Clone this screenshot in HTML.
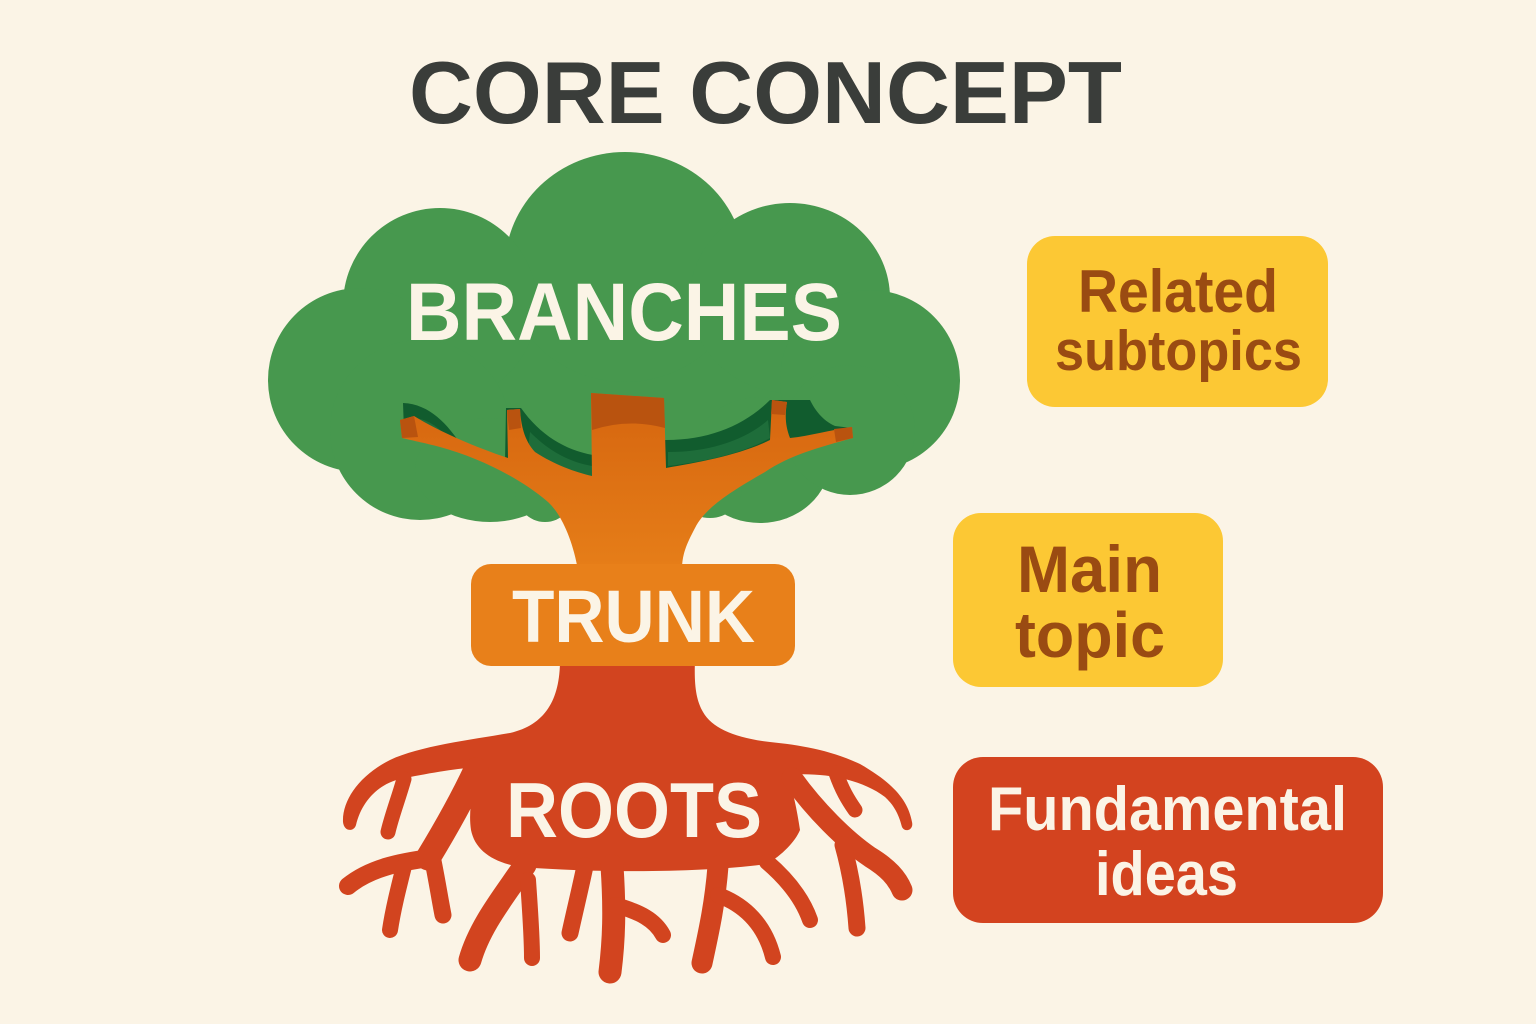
<!DOCTYPE html>
<html>
<head>
<meta charset="utf-8">
<style>
  html,body{margin:0;padding:0;background:#FBF4E6;}
  body{width:1536px;height:1024px;overflow:hidden;}
  svg{display:block;}
  text{font-family:"Liberation Sans",sans-serif;font-weight:bold;}
</style>
</head>
<body>
<svg width="1536" height="1024" viewBox="0 0 1536 1024" xmlns="http://www.w3.org/2000/svg">
  <defs>
    <linearGradient id="trunkG" x1="0" y1="393" x2="0" y2="600" gradientUnits="userSpaceOnUse">
      <stop offset="0" stop-color="#D5650F"/>
      <stop offset="1" stop-color="#E9821A"/>
    </linearGradient>
  </defs>
  <rect width="1536" height="1024" fill="#FBF4E6"/>

  <!-- Title -->
  <text x="765.5" y="123" font-size="88" fill="#3A3D3A" text-anchor="middle" textLength="713" lengthAdjust="spacingAndGlyphs">CORE CONCEPT</text>

  <!-- Canopy -->
  <g fill="#47984E">
    <ellipse cx="615" cy="370" rx="260" ry="130"/>
    <ellipse cx="625" cy="267" rx="120" ry="115"/>
    <circle cx="440" cy="305" r="97"/>
    <ellipse cx="790" cy="298" rx="100" ry="95"/>
    <circle cx="360" cy="380" r="92"/>
    <circle cx="870" cy="380" r="90"/>
    <circle cx="420" cy="430" r="90"/>
    <ellipse cx="490" cy="470" rx="75" ry="52"/>
    <ellipse cx="545" cy="490" rx="30" ry="32"/>
    <ellipse cx="760" cy="460" rx="70" ry="63"/>
    <ellipse cx="710" cy="488" rx="32" ry="30"/>
    <circle cx="850" cy="430" r="65"/>
  </g>

  <!-- dark shadow under canopy -->
  <path fill="#115C2E" d="M 403,403 C 430,404 448,425 462,446 L 505,462 L 506,408 L 521,408 C 540,435 565,450 593,455 L 593,440 L 666,440 C 710,440 745,425 770,400 L 810,400 C 815,410 822,420 835,426 L 852,428 L 850,437 L 800,447 L 787,438 L 770,447 L 730,467 L 666,474 L 592,484 L 545,467 L 523,448 L 510,466 L 450,444 L 404,432 Z"/>
  <path fill="#1E6D3A" d="M 415,418 C 432,420 444,432 452,444 L 420,436 Z M 530,432 C 550,452 570,462 592,466 L 592,478 C 565,472 545,462 528,450 Z M 668,452 C 710,452 745,440 768,420 L 770,438 C 740,455 700,462 668,466 Z"/>

  <!-- Trunk and branches -->
  <path fill="url(#trunkG)" d="M 400,420 L 414,416 C 440,432 475,447 508,458 L 507,410 L 520,409 C 521,425 524,440 535,452 C 555,465 575,472 592,476 L 591,393 L 664,398 L 666,468 C 700,462 740,455 770,440 L 772,400 L 787,402 C 785,415 785,425 790,438 C 810,436 830,430 852,427 L 853,438 C 820,447 790,455 765,472 C 730,492 705,508 695,528 C 686,545 682,555 682,570 L 682,600 L 578,600 L 577,565 C 572,540 562,515 548,502 C 520,478 480,458 440,447 C 425,443 410,440 402,438 Z"/>
  <g fill="#B9530F">
    <path d="M 591,393 L 664,398 L 665,428 Q 628,418 592,430 Z"/>
    <path d="M 400,420 L 414,416 L 418,437 L 402,438 Z"/>
    <path d="M 507,410 L 520,409 L 521,428 L 509,430 Z"/>
    <path d="M 772,400 L 787,402 L 785,415 L 771,414 Z"/>
    <path d="M 834,429 L 852,427 L 853,438 L 836,442 Z"/>
  </g>

  <text x="624" y="340" font-size="82" fill="#FBF4E6" text-anchor="middle" textLength="436" lengthAdjust="spacingAndGlyphs">BRANCHES</text>

  <!-- Roots -->
  <g fill="#D2441F">
    <path d="M 560,660 C 560,700 545,725 510,733 C 470,740 420,746 390,760 C 360,775 342,800 343,822 C 344,832 354,832 356,825 C 362,800 380,782 405,778 C 430,773 460,768 478,767 C 473,790 468,810 471,830 C 475,850 492,862 520,867 C 600,873 700,873 767,864 C 782,855 795,842 800,830 C 797,810 793,790 787,775 C 820,772 860,778 885,797 C 897,808 900,820 902,827 C 905,833 914,830 912,822 C 908,800 893,783 860,764 C 830,750 800,745 770,742 C 735,738 712,728 703,712 C 696,700 694,685 695,660 Z"/>
  </g>
  <g fill="none" stroke="#D2441F" stroke-linecap="round" stroke-linejoin="round">
    <path d="M 476,770 C 462,800 445,830 428,858" stroke-width="25"/>
    <path d="M 430,858 C 400,862 370,868 348,886" stroke-width="18"/>
    <path d="M 404,866 C 398,890 393,910 390,930" stroke-width="16"/>
    <path d="M 432,856 C 437,880 440,900 443,915" stroke-width="17"/>
    <path d="M 404,779 C 398,800 392,815 388,832" stroke-width="15"/>
    <path d="M 525,865 C 505,895 480,925 470,960" stroke-width="23"/>
    <path d="M 528,880 C 530,910 532,935 532,958" stroke-width="16"/>
    <path d="M 585,866 C 580,890 575,910 570,933" stroke-width="17"/>
    <path d="M 612,866 C 615,910 614,940 610,972" stroke-width="23"/>
    <path d="M 615,905 C 640,912 655,920 663,935" stroke-width="16"/>
    <path d="M 718,866 C 715,905 708,935 702,963" stroke-width="21"/>
    <path d="M 718,895 C 745,905 765,925 773,957" stroke-width="16"/>
    <path d="M 767,862 C 788,880 803,900 810,920" stroke-width="16"/>
    <path d="M 792,778 C 815,810 845,840 870,857 C 888,868 897,878 902,890" stroke-width="21"/>
    <path d="M 843,845 C 850,870 855,900 857,928" stroke-width="17"/>
    <path d="M 836,773 C 842,790 848,800 855,810" stroke-width="15"/>
  </g>
  <text x="634" y="837" font-size="78" fill="#FBF4E6" text-anchor="middle" textLength="256" lengthAdjust="spacingAndGlyphs">ROOTS</text>

  <!-- TRUNK box -->
  <rect x="471" y="564" width="324" height="102" rx="20" fill="#E8801A"/>
  <text x="633.5" y="642" font-size="74" fill="#FBF4E6" text-anchor="middle" textLength="243" lengthAdjust="spacingAndGlyphs">TRUNK</text>

  <!-- Right side boxes -->
  <rect x="1027" y="236" width="301" height="171" rx="28" fill="#FCC834"/>
  <text x="1178" y="312" font-size="60" fill="#9A4B12" text-anchor="middle" textLength="200" lengthAdjust="spacingAndGlyphs">Related</text>
  <text x="1178.5" y="370" font-size="57" fill="#9A4B12" text-anchor="middle" textLength="247" lengthAdjust="spacingAndGlyphs">subtopics</text>

  <rect x="953" y="513" width="270" height="174" rx="28" fill="#FCC834"/>
  <text x="1089.5" y="592" font-size="66" fill="#9A4B12" text-anchor="middle" textLength="145" lengthAdjust="spacingAndGlyphs">Main</text>
  <text x="1090" y="657" font-size="64" fill="#9A4B12" text-anchor="middle" textLength="150" lengthAdjust="spacingAndGlyphs">topic</text>

  <rect x="953" y="757" width="430" height="166" rx="30" fill="#D3431F"/>
  <text x="1167.5" y="830" font-size="62" fill="#FBF4E6" text-anchor="middle" textLength="359" lengthAdjust="spacingAndGlyphs">Fundamental</text>
  <text x="1166.5" y="895" font-size="62" fill="#FBF4E6" text-anchor="middle" textLength="143" lengthAdjust="spacingAndGlyphs">ideas</text>
</svg>
</body>
</html>
